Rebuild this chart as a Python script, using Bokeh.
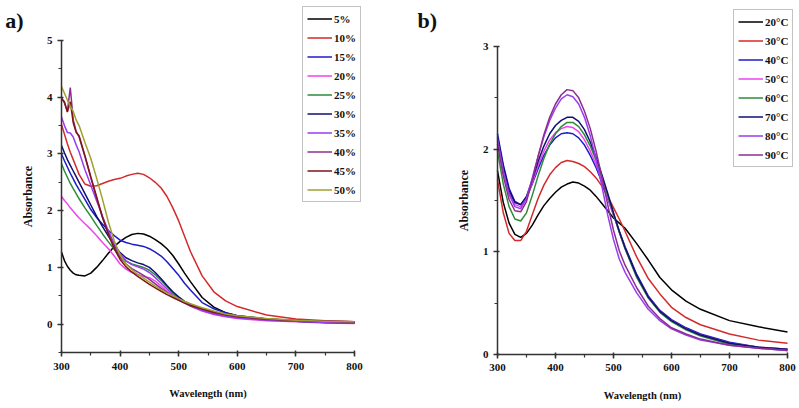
from bokeh.plotting import figure
from bokeh.layouts import row
from bokeh.models import Range1d, SingleIntervalTicker, Legend, LegendItem, Label
from bokeh.embed import file_html
from bokeh.resources import INLINE

# ---------------- Panel a) : concentration series ----------------
wl_a = [300, 305, 310, 315, 320, 325, 330, 340, 350, 360, 370, 380, 390, 400, 410, 420, 430,
        440, 450, 460, 470, 480, 490, 500, 510, 520, 540, 560, 580, 600, 650, 700, 750, 800]

conc_labels = ["5%", "10%", "15%", "20%", "25%", "30%", "35%", "40%", "45%", "50%"]
conc_colors = ["#000000", "#d42a2a", "#1c1cc8", "#ee44ee", "#2e8b3a",
               "#101070", "#9a3cf0", "#8a2f8f", "#7f1515", "#a0a030"]

a_5 = [1.27, 1.12, 1.02, 0.95, 0.90, 0.87, 0.86, 0.85, 0.90, 1.00, 1.12, 1.25, 1.37, 1.46, 1.53, 1.58, 1.60,
       1.59, 1.55, 1.49, 1.42, 1.33, 1.21, 1.06, 0.90, 0.75, 0.47, 0.30, 0.20, 0.15, 0.09, 0.06, 0.04, 0.02]
a_10 = [3.52, 3.35, 3.18, 3.03, 2.90, 2.77, 2.64, 2.47, 2.43, 2.44, 2.48, 2.52, 2.55, 2.57, 2.61, 2.64, 2.66,
        2.64, 2.58, 2.50, 2.40, 2.25, 2.05, 1.82, 1.55, 1.28, 0.85, 0.57, 0.41, 0.31, 0.16, 0.09, 0.06, 0.04]
a_15 = [3.00, 2.88, 2.77, 2.66, 2.56, 2.46, 2.37, 2.20, 2.02, 1.88, 1.76, 1.65, 1.56, 1.48, 1.44, 1.41, 1.39,
        1.37, 1.33, 1.27, 1.20, 1.10, 0.98, 0.86, 0.72, 0.60, 0.38, 0.27, 0.20, 0.15, 0.09, 0.06, 0.04, 0.02]
a_20 = [2.25, 2.18, 2.12, 2.05, 1.99, 1.93, 1.87, 1.77, 1.67, 1.56, 1.44, 1.33, 1.20, 1.06, 0.97, 0.91, 0.87,
        0.84, 0.82, 0.76, 0.67, 0.58, 0.50, 0.43, 0.37, 0.32, 0.23, 0.17, 0.13, 0.10, 0.06, 0.04, 0.02, 0.01]
a_25 = [2.83, 2.70, 2.59, 2.48, 2.39, 2.30, 2.21, 2.05, 1.90, 1.74, 1.59, 1.45, 1.32, 1.20, 1.11, 1.06, 1.03,
        1.00, 0.95, 0.87, 0.77, 0.66, 0.55, 0.46, 0.39, 0.33, 0.26, 0.20, 0.16, 0.13, 0.08, 0.05, 0.04, 0.03]
a_30 = [3.15, 3.02, 2.90, 2.80, 2.70, 2.60, 2.50, 2.30, 2.10, 1.90, 1.72, 1.55, 1.39, 1.26, 1.17, 1.12, 1.08,
        1.05, 1.00, 0.91, 0.80, 0.68, 0.57, 0.48, 0.40, 0.35, 0.27, 0.21, 0.16, 0.12, 0.08, 0.05, 0.03, 0.02]
a_35 = [3.65, 3.50, 3.38, 3.37, 3.30, 3.16, 3.04, 2.72, 2.45, 2.17, 1.90, 1.64, 1.42, 1.24, 1.12, 1.05, 1.01,
        0.97, 0.91, 0.82, 0.72, 0.62, 0.52, 0.44, 0.38, 0.32, 0.24, 0.18, 0.14, 0.11, 0.07, 0.05, 0.03, 0.02]
a_40 = [3.98, 3.90, 3.75, 4.17, 3.60, 3.40, 3.30, 2.95, 2.58, 2.22, 1.88, 1.60, 1.36, 1.18, 1.06, 0.98, 0.92,
        0.86, 0.79, 0.71, 0.63, 0.56, 0.49, 0.43, 0.38, 0.33, 0.26, 0.20, 0.16, 0.13, 0.08, 0.06, 0.05, 0.04]
a_45 = [3.98, 3.92, 3.74, 3.92, 3.55, 3.38, 3.32, 2.97, 2.60, 2.24, 1.88, 1.58, 1.33, 1.14, 1.01, 0.92, 0.84,
        0.77, 0.70, 0.64, 0.58, 0.52, 0.47, 0.42, 0.37, 0.33, 0.27, 0.21, 0.17, 0.14, 0.09, 0.07, 0.05, 0.04]
a_50 = [4.19, 4.07, 3.95, 3.84, 3.75, 3.60, 3.50, 3.20, 2.92, 2.57, 2.20, 1.80, 1.47, 1.22, 1.06, 0.96, 0.88,
        0.81, 0.74, 0.67, 0.61, 0.55, 0.50, 0.45, 0.40, 0.36, 0.29, 0.23, 0.18, 0.15, 0.10, 0.07, 0.05, 0.04]

conc_series = [a_5, a_10, a_15, a_20, a_25, a_30, a_35, a_40, a_45, a_50]

# ---------------- Panel b) : temperature series ----------------
wl_b = [300, 310, 320, 330, 340, 350, 360, 370, 380, 390, 400, 410, 420, 430, 440, 450, 460, 470,
        480, 490, 500, 510, 520, 540, 560, 580, 600, 625, 650, 700, 750, 800]

temp_labels = ["20°C", "30°C", "40°C", "50°C", "60°C", "70°C", "80°C", "90°C"]
temp_colors = ["#000000", "#d42a2a", "#1c1cc8", "#ee44ee", "#2e8b3a", "#101070", "#9a3cf0", "#8a2f8f"]

b_20 = [1.79, 1.48, 1.28, 1.17, 1.14, 1.18, 1.26, 1.36, 1.45, 1.52, 1.58, 1.63, 1.66, 1.68, 1.67, 1.64,
        1.60, 1.54, 1.47, 1.40, 1.33, 1.28, 1.23, 1.08, 0.92, 0.75, 0.63, 0.52, 0.44, 0.33, 0.27, 0.22]
b_30 = [1.70, 1.38, 1.18, 1.11, 1.11, 1.20, 1.36, 1.52, 1.65, 1.75, 1.82, 1.87, 1.89, 1.88, 1.86, 1.83,
        1.78, 1.72, 1.64, 1.54, 1.43, 1.32, 1.20, 0.95, 0.74, 0.59, 0.46, 0.36, 0.29, 0.20, 0.14, 0.11]
b_40 = [2.15, 1.85, 1.62, 1.49, 1.46, 1.53, 1.66, 1.81, 1.94, 2.04, 2.11, 2.15, 2.16, 2.15, 2.11, 2.04,
        1.94, 1.82, 1.68, 1.52, 1.36, 1.20, 1.05, 0.78, 0.57, 0.43, 0.34, 0.26, 0.20, 0.12, 0.07, 0.05]
b_50 = [2.08, 1.80, 1.58, 1.46, 1.44, 1.52, 1.67, 1.84, 1.98, 2.09, 2.16, 2.20, 2.22, 2.21, 2.17, 2.09,
        1.98, 1.85, 1.70, 1.53, 1.36, 1.19, 1.03, 0.76, 0.56, 0.42, 0.33, 0.25, 0.19, 0.11, 0.07, 0.05]
b_60 = [1.98, 1.66, 1.44, 1.32, 1.30, 1.38, 1.55, 1.74, 1.91, 2.05, 2.15, 2.22, 2.26, 2.26, 2.22, 2.14,
        2.03, 1.89, 1.73, 1.55, 1.37, 1.19, 1.03, 0.75, 0.55, 0.41, 0.32, 0.24, 0.18, 0.10, 0.07, 0.04]
b_70 = [2.12, 1.83, 1.60, 1.48, 1.46, 1.54, 1.70, 1.88, 2.03, 2.15, 2.23, 2.28, 2.31, 2.31, 2.27, 2.19,
        2.07, 1.92, 1.75, 1.57, 1.38, 1.20, 1.04, 0.77, 0.56, 0.42, 0.33, 0.25, 0.19, 0.11, 0.07, 0.05]
b_80 = [2.10, 1.79, 1.56, 1.44, 1.42, 1.52, 1.72, 1.93, 2.12, 2.28, 2.40, 2.49, 2.53, 2.51, 2.44, 2.31,
        2.13, 1.90, 1.64, 1.36, 1.12, 0.93, 0.80, 0.60, 0.44, 0.33, 0.25, 0.19, 0.14, 0.09, 0.06, 0.04]
b_90 = [2.05, 1.74, 1.51, 1.40, 1.39, 1.49, 1.70, 1.93, 2.14, 2.31, 2.44, 2.53, 2.58, 2.57, 2.50, 2.37,
        2.20, 1.98, 1.73, 1.46, 1.21, 1.01, 0.87, 0.65, 0.47, 0.35, 0.26, 0.20, 0.15, 0.09, 0.06, 0.04]

temp_series = [b_20, b_30, b_40, b_50, b_60, b_70, b_80, b_90]

x_label = "Wavelength (nm)"
y_label = "Absorbance"

FONT = "Liberation Serif"


def make_panel(width, height, xr, yr, xbounds, ybounds, wl, series, labels, colors,
               legend_loc, tag, tag_xy):
    p = figure(width=width, height=height, output_backend="svg", toolbar_location=None,
               x_range=Range1d(*xr), y_range=Range1d(*yr),
               min_border_left=0, min_border_right=0, min_border_top=0, min_border_bottom=0)
    p.xgrid.visible = False
    p.ygrid.visible = False
    p.outline_line_color = None
    p.background_fill_color = "white"
    p.border_fill_color = "white"

    p.xaxis.ticker = SingleIntervalTicker(interval=100, num_minor_ticks=2)
    p.yaxis.ticker = SingleIntervalTicker(interval=1, num_minor_ticks=2)
    p.xaxis.bounds = xbounds
    p.yaxis.bounds = ybounds
    p.xaxis.fixed_location = ybounds[0]
    p.yaxis.fixed_location = xbounds[0]
    p.xaxis.axis_label = x_label
    p.yaxis.axis_label = y_label
    for ax in p.axis:
        ax.axis_line_color = "#333333"
        ax.axis_line_width = 1.5
        ax.major_tick_line_color = "#333333"
        ax.major_tick_line_width = 1.5
        ax.major_tick_in = 2
        ax.major_tick_out = 4
        ax.minor_tick_line_color = "#333333"
        ax.minor_tick_line_width = 1.2
        ax.minor_tick_in = 0
        ax.minor_tick_out = 3
        ax.major_label_text_font = FONT
        ax.major_label_text_font_style = "bold"
        ax.major_label_text_font_size = "11px"
        ax.major_label_text_color = "#111111"
        ax.axis_label_text_font = FONT
        ax.axis_label_text_font_style = "bold"
        ax.axis_label_text_color = "#111111"
    p.xaxis.axis_label_text_font_size = "10.5px"
    p.yaxis.axis_label_text_font_size = "12px"
    p.xaxis.major_label_standoff = 6
    p.xaxis.axis_label_standoff = 15
    p.yaxis.major_label_standoff = 5
    p.yaxis.axis_label_standoff = 9

    items = []
    for ys, lab, col in zip(series, labels, colors):
        r = p.line(wl, ys, line_color=col, line_width=1.5)
        items.append(LegendItem(label=lab, renderers=[r]))

    leg = Legend(items=items, location=legend_loc, margin=0, padding=4,
                 spacing=4, glyph_width=25, glyph_height=15, label_height=15,
                 label_standoff=2, label_text_font=FONT, label_text_font_style="bold",
                 label_text_font_size="11px", label_text_color="#111111",
                 border_line_color="#888888", border_line_width=1,
                 background_fill_color="white", background_fill_alpha=1.0)
    p.add_layout(leg)

    p.add_layout(Label(x=tag_xy[0], y=tag_xy[1], text=tag, text_font=FONT,
                       text_font_style="bold", text_font_size="22px",
                       text_baseline="bottom", text_color="#111111"))
    return p


pa = make_panel(400, 408, (195.9, 878.5), (-1.487, 5.705), (300, 800), (-0.5, 5),
                wl_a, conc_series, conc_labels, conc_colors, (302, 206), "a)", (204, 5.14))
pb = make_panel(399, 408, (132.8, 820.7), (-0.526, 3.448), (300, 800), (0, 3),
                wl_b, temp_series, temp_labels, temp_colors, (333, 241), "b)", (162, 3.136))

layout = row(pa, pb)
open("out.html", "w").write(file_html(layout, INLINE))
